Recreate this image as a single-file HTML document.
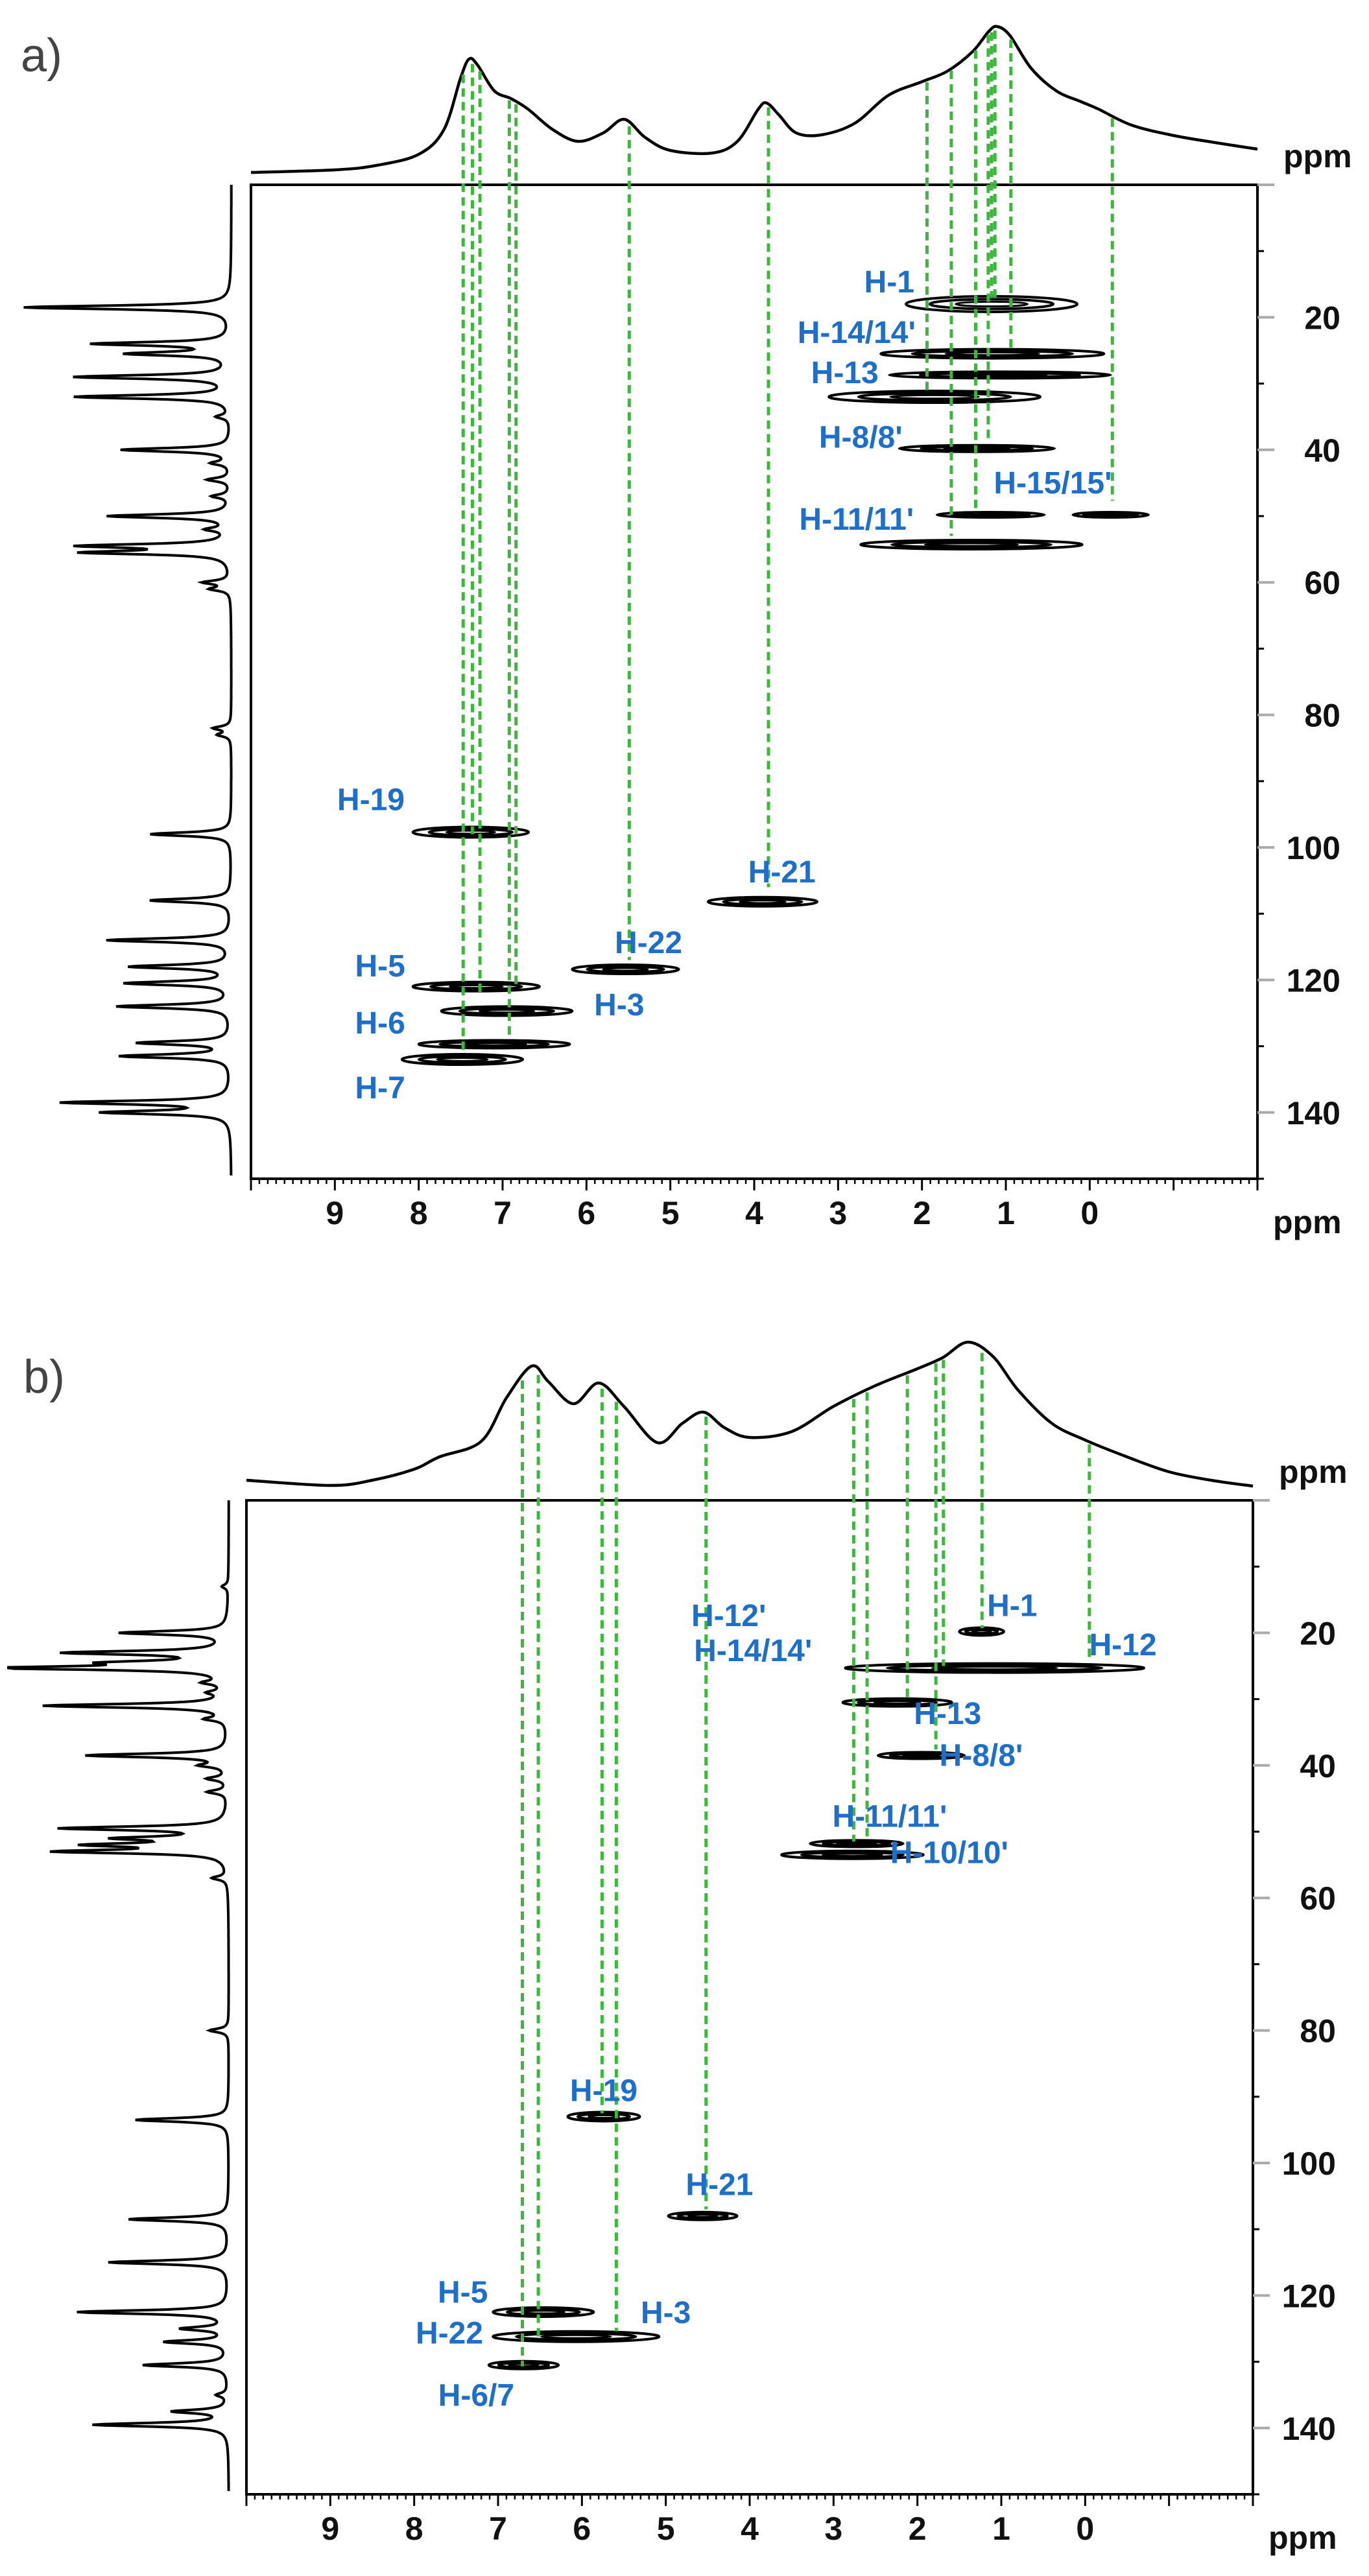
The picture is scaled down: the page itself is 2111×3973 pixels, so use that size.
<!DOCTYPE html>
<html><head><meta charset="utf-8">
<style>
html,body{margin:0;padding:0;background:#fff;}
svg{display:block;}
text{font-family:"Liberation Sans",Arial,sans-serif;}
.lbl{fill:#1f6fc8;font-weight:bold;font-size:48px;}
.tick{fill:#111;font-weight:bold;font-size:50px;}
</style></head>
<body>
<svg id="fig" width="2111" height="3973" viewBox="0 0 2111 3973" xmlns="http://www.w3.org/2000/svg"></svg>
<script>
// ---------- Panel a data ----------
const aTopPpm = [10,9,8.5,8,7.7,7.5,7.4,7.3,7.1,6.9,6.7,6.4,6.1,5.8,5.55,5.3,5.0,4.5,4.2,3.95,3.85,3.7,3.5,3.2,2.8,2.4,2.0,1.7,1.4,1.2,1.1,0.95,0.7,0.4,0.1,-0.1,-0.5,-1.0,-1.5,-2.0];
const aTopInt = [2,6,13,30,68,148,177,168,128,116,100,68,50,63,84,56,36,32,50,100,109,90,63,60,78,121,142,158,188,220,227,213,163,128,111,100,75,59,48,38];
const aLeftC = [18.5,24,25.5,29,32,35,40,42,44.5,47,50,52,54.5,55.5,60,61,82,83,98,108,114,118,120.5,124,129.5,131.5,138.5,140];
const aLeftH = [319,209,155,239,239,20,169,27,35,27,189,32,222,216,41,30,27,20,125,125,191,155,162,175,142,169,256,193];
const aLineH = [7.47,7.36,7.27,6.92,6.84,5.49,3.83,1.94,1.65,1.36,1.21,1.17,1.13,0.94,-0.27];
const aLineC = [131,98,122,129,121,117,106,31,53,49.6,39,17,17,25,47.7];
const aPeakH0 = [2.19,2.49,2.39,3.11,2.27,1.82,0.2,2.73,8.07,4.55,6.17,8.07,7.73,8.0,8.2];
const aPeakH1 = [0.15,-0.17,-0.25,0.59,0.42,0.54,-0.7,0.09,6.69,3.25,4.9,6.56,6.17,6.2,6.76];
const aPeakC = [18,25.5,28.7,32,39.8,49.8,49.8,54.3,97.7,108.2,118.4,121,124.7,129.7,132];
const aPeakW = [12,7,5,9,5,4,4,7,8,7,7,7,7,6,8];
const aLabels = ["H-1","H-14/14'","H-13","H-8/8'","H-15/15'","H-11/11'","H-19","H-21","H-22","H-5","H-3","H-6","H-7"];
const aLabelH = [2.39,2.78,2.92,2.73,0.44,2.78,8.57,3.67,5.26,8.46,5.61,8.46,8.46];
const aLabelC = [14.6,22.2,28.3,38,44.9,50.4,92.7,103.6,114.3,117.8,123.7,126.4,136.2];

// ---------- Panel b data ----------
const bTopPpm = [10,9,8.5,8.0,7.7,7.2,6.9,6.6,6.4,6.1,5.8,5.5,5.1,4.8,4.55,4.3,4.0,3.5,3.0,2.5,2.0,1.7,1.4,1.1,0.8,0.4,0.0,-0.5,-1.0,-1.5,-2.0];
const bTopInt = [12,4,12,29,48,72,139,188,164,130,162,126,70,100,117,93,78,87,126,158,184,201,225,203,151,100,74,48,25,12,3];
const bLeftC = [13,20,23,24.5,25.3,27.5,29,31,33,38.5,40,42,44,49.5,51,52,53,57,80,93.5,108.5,115,122.5,125,127,130.5,135,137.5,139.5];
const bLeftH = [10,165,245,151,337,30,23,283,30,218,37,30,30,252,151,191,252,23,30,144,154,185,232,70,97,131,17,84,208];
const bLineH = [6.71,6.52,5.76,5.59,4.52,2.76,2.60,2.12,1.78,1.69,1.23,-0.05];
const bLineC = [130.7,126.6,92.5,125.4,107,51.5,51.5,30,37.6,25,19.3,24.4];
const bPeakH0 = [1.5,2.86,2.89,2.47,3.28,3.62,6.17,4.97,7.06,7.06,7.11];
const bPeakH1 = [0.97,-0.70,1.59,1.44,2.17,1.93,5.31,4.15,5.86,5.08,6.28];
const bPeakC = [19.8,25.3,30.5,38.5,51.8,53.5,93,108,122.5,126.2,130.5];
const bPeakW = [6,7,6,5,5,6,7,6,7,8,6];
const bLabels = ["H-1","H-12'","H-12","H-14/14'","H-13","H-8/8'","H-11/11'","H-10/10'","H-19","H-21","H-5","H-3","H-22","H-6/7"];
const bLabelH = [0.87,4.25,-0.45,3.96,1.64,1.24,2.33,1.62,5.74,4.36,7.42,5.00,7.58,7.26];
const bLabelC = [15.8,17.3,21.7,22.6,32.1,38.4,47.6,53.1,89,103.2,119.4,122.5,125.6,135];

// ---------- drawing ----------
const NS="http://www.w3.org/2000/svg";
const svg=document.getElementById('fig');
function mk(tag,attrs,parent){const e=document.createElementNS(NS,tag);for(const k in attrs)e.setAttribute(k,attrs[k]);(parent||svg).appendChild(e);return e;}
const PXH=1552/12, PXC=1533/150;

function drawPanel(P,D){
  const g=mk('g',{});
  
  
  const X=h=>P.ox+(10-h)*PXH;
  const Y=c=>P.oy+c*PXC;
  const topY=i=>P.topBase-i;
  const leftX=i=>P.leftBase-i;
  // top spectrum: cardinal spline
  const pts=D.topPpm.map((h,i)=>[X(h),topY(D.topInt[i])]);
  let d='M'+pts[0][0]+','+pts[0][1];
  for(let i=0;i<pts.length-1;i++){
    const p0=pts[Math.max(0,i-1)],p1=pts[i],p2=pts[i+1],p3=pts[Math.min(pts.length-1,i+2)];
    const c1=[p1[0]+(p2[0]-p0[0])/6,p1[1]+(p2[1]-p0[1])/6];
    const c2=[p2[0]-(p3[0]-p1[0])/6,p2[1]-(p3[1]-p1[1])/6];
    d+=` C${c1[0].toFixed(1)},${c1[1].toFixed(1)} ${c2[0].toFixed(1)},${c2[1].toFixed(1)} ${p2[0].toFixed(1)},${p2[1].toFixed(1)}`;
  }
  const top=mk('path',{d:d,fill:'none',stroke:'#000','stroke-width':4.5},g);
  
  
  function topAt(h){for(let i=0;i<D.topPpm.length-1;i++){if(h<=D.topPpm[i]&&h>=D.topPpm[i+1]){const t=(D.topPpm[i]-h)/(D.topPpm[i]-D.topPpm[i+1]);return topY(D.topInt[i]+(D.topInt[i+1]-D.topInt[i])*t);}}return P.topBase;}
  // left spectrum: lorentzian sum
  let ld='';
  for(let c=0;c<=149.5;c+=0.1){
    let s=0;for(let k=0;k<D.leftC.length;k++){const u=(c-D.leftC[k])/0.32;s+=D.leftH[k]/(1+u*u);}
    ld+=(c===0?'M':'L')+leftX(Math.min(s,340)).toFixed(1)+','+Y(c).toFixed(1);
  }
  const left=mk('path',{d:ld,fill:'none',stroke:'#000','stroke-width':4},g);
  
  
  // frame
  const fr=mk('rect',{x:P.ox,y:P.oy,width:1552,height:1533,fill:'none',stroke:'#000','stroke-width':4},g);
  
  
  // x ticks
  for(let k=0;k<=120;k++){
    const h=10-k*0.1;const x=X(h);const major=(k%10===0);
    mk('line',{x1:x,x2:x,y1:P.oy+1533,y2:P.oy+1533+(major?18:8),stroke:'#000','stroke-width':major?3:2.5},g);
  }
  for(let h=9;h>=0;h--){
    const t=mk('text',{x:X(h),y:P.oy+1533+70,'text-anchor':'middle',class:'tick'},g);
    t.textContent=h;
    
    
  }
  // y ticks
  for(let c=0;c<=150;c+=10){
    const major=(c%20===0);
    mk('line',{x1:P.ox+1552,x2:P.ox+1552+(major?26:10),y1:Y(c),y2:Y(c),stroke:major?'#aaa':'#000','stroke-width':major?4:3},g);
    if(major&&c>0){
      const t=mk('text',{x:P.ox+1552+128,y:Y(c)+18,'text-anchor':'end',class:'tick'},g);
      t.textContent=c;
      
      
    }
  }
  // ppm labels
  const pt=mk('text',{x:P.ox+1552+40,y:P.oy-27,class:'tick','font-size':46},g);pt.textContent='ppm';
  
  
  const pb=mk('text',{x:P.ox+1552+24,y:P.oy+1533+84,class:'tick','font-size':46},g);pb.textContent='ppm';
  
  
  // panel letter
  const pl=mk('text',{x:P.letterX,y:P.letterY,'font-size':72,fill:'#444'},g);pl.textContent=P.letter;
  
  
  // cross peaks
  for(let k=0;k<D.pc.length;k++){
    const x0=X(D.p0[k]),x1=X(D.p1[k]);const cx=(x0+x1)/2,rx=(x1-x0)/2,cy=Y(D.pc[k]),ry=D.pw[k];
    const pg=mk('g',{},g);
    
    
    mk('ellipse',{cx:cx,cy:cy,rx:rx,ry:ry,fill:'none',stroke:'#000','stroke-width':4},pg);
    mk('ellipse',{cx:cx,cy:cy,rx:rx*0.72,ry:ry*0.62,fill:'none',stroke:'#000','stroke-width':4},pg);
    mk('ellipse',{cx:cx,cy:cy,rx:rx*0.42,ry:ry*0.3,fill:'none',stroke:'#000','stroke-width':3},pg);
  }
  // green guide lines
  for(let k=0;k<D.lh.length;k++){
    const x=X(D.lh[k]);
    const ln=mk('line',{x1:x,x2:x,y1:topAt(D.lh[k])+4,y2:Y(D.lc[k]),stroke:'#3fb43f','stroke-width':5,'stroke-dasharray':'13 8'},g);
    
    
  }
  // labels
  for(let k=0;k<D.lab.length;k++){
    const t=mk('text',{x:X(D.labH[k]),y:Y(D.labC[k])+17,'text-anchor':'middle',class:'lbl'},g);
    t.textContent=D.lab[k];
    
    
  }
}
drawPanel({name:'panel-a',ox:387,oy:285,topBase:268,leftBase:357,letter:'a)',letterX:32,letterY:110},
  {topPpm:aTopPpm,topInt:aTopInt,leftC:aLeftC,leftH:aLeftH,lh:aLineH,lc:aLineC,p0:aPeakH0,p1:aPeakH1,pc:aPeakC,pw:aPeakW,lab:aLabels,labH:aLabelH,labC:aLabelC});
drawPanel({name:'panel-b',ox:380,oy:2314,topBase:2295,leftBase:353,letter:'b)',letterX:36,letterY:2148},
  {topPpm:bTopPpm,topInt:bTopInt,leftC:bLeftC,leftH:bLeftH,lh:bLineH,lc:bLineC,p0:bPeakH0,p1:bPeakH1,pc:bPeakC,pw:bPeakW,lab:bLabels,labH:bLabelH,labC:bLabelC});
</script>
</body></html>
